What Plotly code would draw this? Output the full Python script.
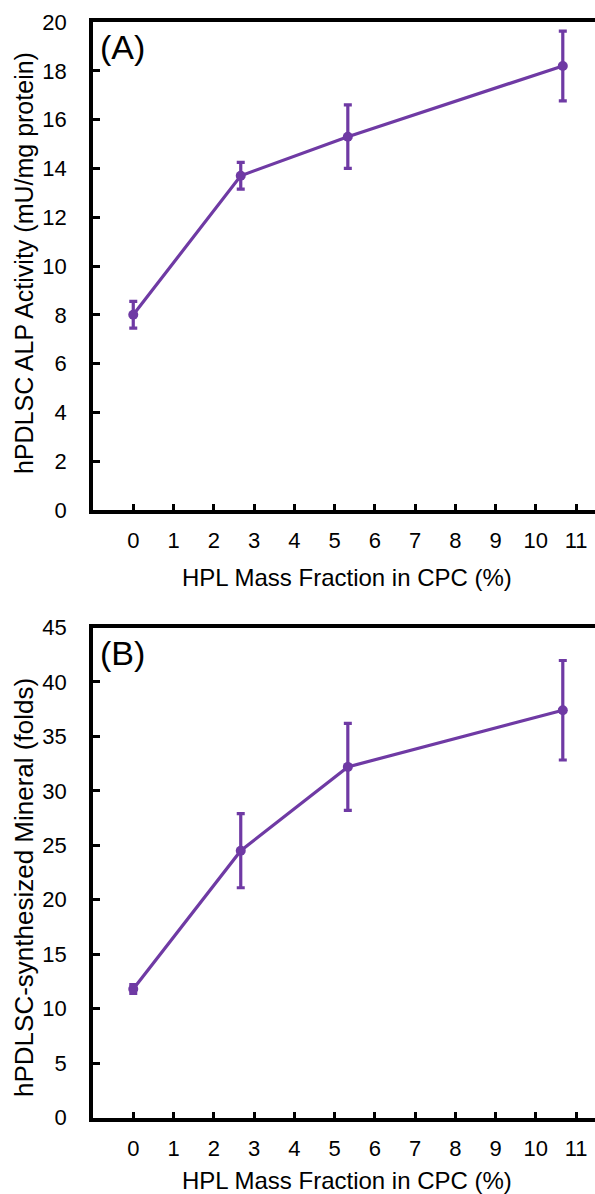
import plotly.graph_objects as go

# ---- data ----
hpl_fraction = [0, 2.67, 5.33, 10.67]
alp_activity = [8.0, 13.7, 15.3, 18.2]
alp_error = [0.55, 0.55, 1.3, 1.43]
mineral_folds = [11.8, 24.5, 32.2, 37.4]
mineral_error = [0.4, 3.4, 4.0, 4.57]
x_ticks = list(range(0, 12))
panel_labels = ["(A)", "(B)"]
y_titles = ["hPDLSC ALP Activity (mU/mg protein)", "hPDLSC-synthesized Mineral (folds)"]
x_title = "HPL Mass Fraction in CPC (%)"

W, H = 595, 1194
PURPLE = "#6F3AA4"
FONT = "Liberation Sans, Arial, sans-serif"

def py(px):
    return 1 - px / H

fig = go.Figure()
fig.add_trace(go.Scatter(
    x=hpl_fraction, y=alp_activity, mode="lines+markers",
    line=dict(color=PURPLE, width=3.2), marker=dict(color=PURPLE, size=10),
    error_y=dict(type="data", array=alp_error, color=PURPLE, thickness=3.2, width=4),
    xaxis="x", yaxis="y", showlegend=False))
fig.add_trace(go.Scatter(
    x=hpl_fraction, y=mineral_folds, mode="lines+markers",
    line=dict(color=PURPLE, width=3.2), marker=dict(color=PURPLE, size=10),
    error_y=dict(type="data", array=mineral_error, color=PURPLE, thickness=3.2, width=4),
    xaxis="x2", yaxis="y2", showlegend=False))

xdom = [93 / W, 1.0]
common_x = dict(range=[-1, 11.47], tickvals=x_ticks, ticks="inside", ticklen=6, tickwidth=3,
                tickcolor="black", showline=True, linecolor="black", linewidth=3.5, mirror=True,
                showgrid=False, zeroline=False, tickfont=dict(size=22, family=FONT, color="black"),
                ticklabelstandoff=8, domain=xdom, automargin=False)
common_y = dict(ticks="inside", ticklen=7, tickwidth=3, tickcolor="black", showline=True,
                linecolor="black", linewidth=3.5, showgrid=False, zeroline=False,
                tickfont=dict(size=22, family=FONT, color="black"), ticklabelstandoff=18,
                automargin=False)

fig.update_layout(
    width=W, height=H, margin=dict(l=0, r=0, t=0, b=0),
    plot_bgcolor="white", paper_bgcolor="white",
    xaxis=dict(**common_x, anchor="y"),
    yaxis=dict(**common_y, range=[0, 20], dtick=2, domain=[py(510), py(22)], anchor="x"),
    xaxis2=dict(**common_x, anchor="y2"),
    yaxis2=dict(**common_y, range=[0, 45], dtick=5, domain=[py(1117.5), py(627.5)], anchor="x2"),
)

anns = []
for lab, ytop in zip(panel_labels, [26, 632]):
    anns.append(dict(text=lab, x=98 / W, y=py(ytop), xref="paper", yref="paper",
                     xanchor="left", yanchor="top", showarrow=False,
                     font=dict(size=34, family=FONT, color="black")))
for t, yc, fs in zip(y_titles, [263, 888], [25, 26]):
    anns.append(dict(text=t, x=24 / W, y=py(yc), xref="paper", yref="paper", textangle=-90,
                     xanchor="center", yanchor="middle", showarrow=False,
                     font=dict(size=fs, family=FONT, color="black")))
for yc in [577, 1180]:
    anns.append(dict(text=x_title, x=347 / W, y=py(yc), xref="paper", yref="paper",
                     xanchor="center", yanchor="middle", showarrow=False,
                     font=dict(size=24, family=FONT, color="black")))
fig.update_layout(annotations=anns)

fig.write_html("out.html", config={"displayModeBar": False},
               post_script="document.body.style.margin='0';document.body.style.overflow='hidden';")
